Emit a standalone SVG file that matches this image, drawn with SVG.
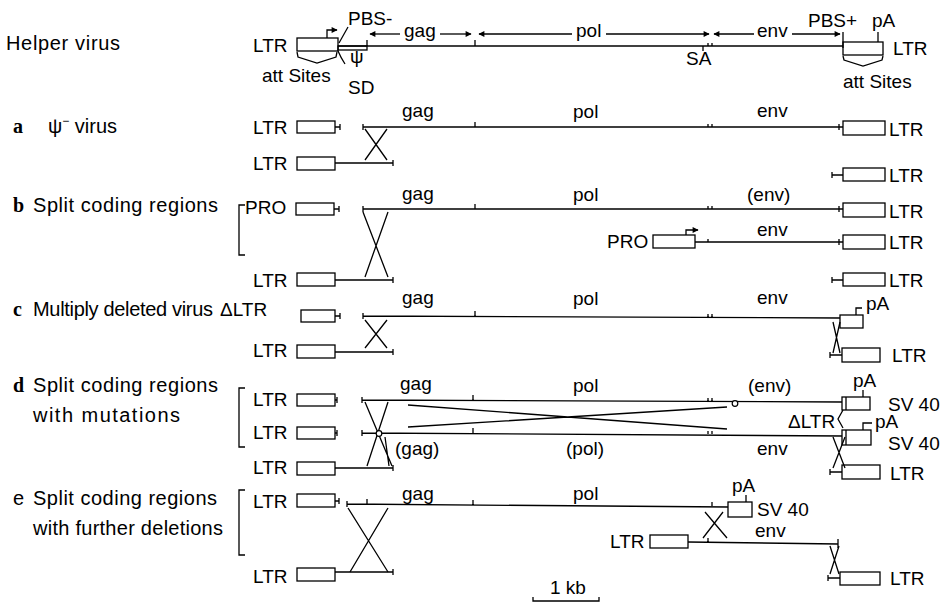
<svg xmlns="http://www.w3.org/2000/svg" width="949" height="604" viewBox="0 0 949 604">
<defs>
<marker id="ah" viewBox="0 0 10 10" refX="9" refY="5" markerWidth="8" markerHeight="6" markerUnits="userSpaceOnUse" orient="auto"><path d="M0,0 L10,5 L0,10 z" fill="#000"/></marker>
<style>
.ln{stroke:#000;stroke-width:1.3;fill:none}
.bx{fill:#fff;stroke:#000;stroke-width:1.3}
.dot{fill:#fff;stroke:#000;stroke-width:1.2}
.t{font-family:"Liberation Sans",Arial,sans-serif;font-size:19px;fill:#000}
.s{font-family:"Liberation Sans",Arial,sans-serif;font-size:20px;fill:#000}
.r{font-family:"Liberation Serif","Times New Roman",serif;font-size:20px;font-weight:bold;fill:#000}
</style>
</defs>
<rect width="949" height="604" fill="#fff"/>

<!-- Row labels -->
<g id="labels">
<text class="s" x="6" y="50" textLength="114" lengthAdjust="spacing">Helper virus</text>
<text class="r" x="13" y="133">a</text>
<text class="s" x="48" y="133">ψ<tspan font-size="12" dy="-8">−</tspan><tspan dy="8"> virus</tspan></text>
<text class="r" x="13" y="212">b</text>
<text class="s" x="33" y="212" textLength="185" lengthAdjust="spacing">Split coding regions</text>
<text class="r" x="13" y="316">c</text>
<text class="s" x="33" y="316" textLength="180" lengthAdjust="spacing">Multiply deleted virus</text>
<text class="r" x="13" y="392">d</text>
<text class="s" x="33" y="392" textLength="185" lengthAdjust="spacing">Split coding regions</text>
<text class="s" x="33" y="422" textLength="147" lengthAdjust="spacing">with mutations</text>
<text class="s" x="13" y="505">e</text>
<text class="s" x="33" y="505" textLength="184" lengthAdjust="spacing">Split coding regions</text>
<text class="s" x="33" y="535" textLength="190" lengthAdjust="spacing">with further deletions</text>
<path class="ln" d="M245,205 H239 V255 H245 M245,388 H239 V447 H245 M245,490 H239 V555 H245"/>
</g>

<!-- Helper virus -->
<g id="helper-ltr-left">
<text class="t" x="253" y="52">LTR</text>
<rect class="bx" x="297" y="38" width="41" height="13"/>
<path class="ln" d="M327,38 V30 H337" marker-end="url(#ah)"/>
<path class="ln" d="M297,52 L298,57 L317,63 L336,57 L337,52"/>
<text class="t" x="262" y="82">att Sites</text>
<text class="t" x="348" y="25">PBS-</text>
<path class="ln" d="M348,27 L339,43"/>
<path class="ln" d="M338,51 Q341,58 345,64"/>
<text class="t" x="348" y="94">SD</text>
<rect class="ln" x="338" y="46" width="29" height="4"/>
<text class="t" x="350" y="63" font-size="17">ψ</text>
</g>
<g id="helper-ltr-right">
<rect class="bx" x="843" y="42" width="40" height="13"/>
<path class="ln" d="M878,32 V42"/>
<text class="t" x="808" y="27">PBS+</text>
<text class="t" x="872" y="27">pA</text>
<text class="t" x="893" y="55">LTR</text>
<path class="ln" d="M843,56 L844,60 L863,66 L882,60 L883,56"/>
<text class="t" x="843" y="88">att Sites</text>
</g>
<g id="helper-genes">
<text class="t" x="404" y="37">gag</text>
<text class="t" x="576" y="37">pol</text>
<text class="t" x="757" y="37">env</text>
<text class="t" x="686" y="65">SA</text>
</g>

<!-- Row a -->
<g id="a-nodes">
<text class="t" x="253" y="134">LTR</text>
<rect class="bx" x="297" y="121" width="38" height="12"/>
<text class="t" x="402" y="117">gag</text>
<text class="t" x="573" y="118">pol</text>
<text class="t" x="757" y="117">env</text>
<rect class="bx" x="843" y="121" width="42" height="14"/>
<text class="t" x="889" y="136">LTR</text>
<text class="t" x="253" y="170">LTR</text>
<rect class="bx" x="297" y="157" width="38" height="13"/>
<rect class="bx" x="843" y="168" width="42" height="13"/>
<text class="t" x="889" y="182">LTR</text>
</g>

<!-- Row b -->
<g id="b-nodes">
<text class="t" x="245" y="214">PRO</text>
<rect class="bx" x="296" y="203" width="38" height="12"/>
<text class="t" x="402" y="200">gag</text>
<text class="t" x="573" y="201">pol</text>
<text class="t" x="747" y="201">(env)</text>
<rect class="bx" x="843" y="203" width="42" height="14"/>
<text class="t" x="889" y="218">LTR</text>
<text class="t" x="607" y="248">PRO</text>
<rect class="bx" x="653" y="235" width="42" height="13"/>
<path class="ln" d="M686,235 V230 H698" marker-end="url(#ah)"/>
<text class="t" x="757" y="236">env</text>
<rect class="bx" x="843" y="235" width="42" height="14"/>
<text class="t" x="889" y="249">LTR</text>
<text class="t" x="253" y="287">LTR</text>
<rect class="bx" x="297" y="273" width="38" height="13"/>
<rect class="bx" x="843" y="273" width="42" height="13"/>
<text class="t" x="889" y="287">LTR</text>
</g>

<!-- Row c -->
<g id="c-nodes">
<text class="t" x="220" y="316">ΔLTR</text>
<rect class="bx" x="301" y="310" width="34" height="12"/>
<text class="t" x="402" y="304">gag</text>
<text class="t" x="573" y="305">pol</text>
<text class="t" x="757" y="304">env</text>
<rect class="bx" x="840" y="315" width="23" height="13"/>
<path class="ln" d="M856,315 V308 H862"/>
<text class="t" x="866" y="310">pA</text>
<text class="t" x="253" y="357">LTR</text>
<rect class="bx" x="297" y="345" width="38" height="13"/>
<rect class="bx" x="842" y="348" width="38" height="14"/>
<text class="t" x="892" y="362">LTR</text>
</g>

<!-- Row d -->
<g id="d-nodes">
<text class="t" x="253" y="406">LTR</text>
<rect class="bx" x="297" y="394" width="38" height="12"/>
<text class="t" x="400" y="390">gag</text>
<text class="t" x="573" y="392">pol</text>
<text class="t" x="748" y="392">(env)</text>
<rect class="bx" x="842" y="397" width="28" height="13"/>
<path class="ln" d="M846,397 V410 M863,397 V390"/>
<text class="t" x="853" y="387">pA</text>
<text class="t" x="888" y="411">SV 40</text>
<text class="t" x="253" y="439">LTR</text>
<rect class="bx" x="297" y="427" width="38" height="12"/>
<rect class="bx" x="842" y="430" width="29" height="15"/>
<path class="ln" d="M846,430 V445 M863,430 V423 H872"/>
<text class="t" x="875" y="428">pA</text>
<text class="t" x="888" y="450">SV 40</text>
<text class="t" x="788" y="428">ΔLTR</text>
<path class="ln" d="M843,410 L838,419 L843,428"/>
<text class="t" x="395" y="455">(gag)</text>
<text class="t" x="566" y="455">(pol)</text>
<text class="t" x="757" y="455">env</text>
<text class="t" x="253" y="474">LTR</text>
<rect class="bx" x="297" y="462" width="38" height="13"/>
<rect class="bx" x="842" y="465" width="38" height="14"/>
<text class="t" x="890" y="480">LTR</text>
</g>

<!-- Row e -->
<g id="e-nodes">
<text class="t" x="253" y="508">LTR</text>
<rect class="bx" x="297" y="494" width="38" height="13"/>
<text class="t" x="402" y="500">gag</text>
<text class="t" x="573" y="500">pol</text>
<rect class="bx" x="728" y="502" width="24" height="15"/>
<path class="ln" d="M746,502 V495"/>
<text class="t" x="732" y="492">pA</text>
<text class="t" x="757" y="516">SV 40</text>
<text class="t" x="755" y="537">env</text>
<text class="t" x="610" y="548">LTR</text>
<rect class="bx" x="650" y="535" width="38" height="13"/>
<text class="t" x="253" y="583">LTR</text>
<rect class="bx" x="297" y="568" width="38" height="13"/>
<rect class="bx" x="840" y="572" width="40" height="13"/>
<text class="t" x="890" y="585">LTR</text>
</g>

<g id="scale">
<text class="t" x="550" y="594">1 kb</text>
<path class="ln" d="M533,597 V601 H599 V597"/>
</g>

<!-- Connectors -->
<g id="connectors" class="ln">
<!-- helper -->
<path d="M338,46 H843"/>
<path d="M367,40 V46 M475,40 V46 M703,46 V51 M708,43 V46 M712,43 V46 M843,32 V48"/>
<path d="M400,34 H370" marker-end="url(#ah)"/>
<path d="M440,34 H471" marker-end="url(#ah)"/>
<path d="M572,34 H479" marker-end="url(#ah)"/>
<path d="M606,34 H709" marker-end="url(#ah)"/>
<path d="M754,34 H714" marker-end="url(#ah)"/>
<path d="M792,34 H840" marker-end="url(#ah)"/>
<!-- a -->
<path d="M335,127 H340 M340,124 V130"/>
<path d="M363,124 V130 M363,127 H843 M839,124 V130 M475,122 V127 M708,124 V127 M712,124 V127"/>
<path d="M365,129 L387,160 M387,129 L365,160"/>
<path d="M335,163 H393 M393,160 V166"/>
<path d="M832,172 V178 M832,175 H843"/>
<!-- b -->
<path d="M334,209 H339 M339,206 V212"/>
<path d="M363,206 V212 M363,209 H843 M839,206 V212 M475,204 V209 M708,206 V209 M712,206 V209"/>
<path d="M363,212 L388,277 M388,212 L365,277"/>
<path d="M335,280 H393 M393,277 V283"/>
<path d="M695,242 H843 M708,239 V242 M839,239 V245"/>
<path d="M832,277 V283 M832,280 H843"/>
<!-- c -->
<path d="M335,316 H340 M340,313 V319"/>
<path d="M363,313 V319 M363,316 L840,318 M475,311 V316 M708,314 V317 M712,314 V317"/>
<path d="M365,320 L387,348 M387,320 L365,348"/>
<path d="M335,352 H393 M393,349 V355"/>
<path d="M833,322 L840,353 M840,322 L833,353"/>
<path d="M830,352 V358 M830,355 H842"/>
<!-- d -->
<path d="M335,400 H337 M337,397 V403"/>
<path d="M362,397 V403 M362,400 L842,402 M473,395 V400 M708,398 V401 M712,398 V401"/>
<path d="M335,433 H337 M337,430 V436"/>
<path d="M362,430 V436 M362,433 L842,436 M473,428 V433 M708,431 V434 M712,431 V434"/>
<path d="M408,405 L727,429 M408,427 L727,407"/>
<path d="M365,402 L392,466 M388,402 L367,466 M385,437 L389,466"/>
<path d="M335,468 H393 M393,465 V471"/>
<path d="M833,437 L845,468 M845,437 L833,468"/>
<path d="M830,469 V475 M830,472 H842"/>
<!-- e -->
<path d="M335,501 H339 M339,498 V504"/>
<path d="M347,501 V507 M347,504 L728,507 M367,499 V504 M473,500 V505 M712,502 V506"/>
<path d="M348,508 L388,572 M388,508 L350,572"/>
<path d="M705,512 L727,538 M723,512 L703,538"/>
<path d="M688,542 L838,544 M708,538 V542 M838,539 V548"/>
<path d="M830,546 L839,574 M839,546 L830,574"/>
<path d="M335,572 H393 M393,569 V575"/>
<path d="M828,575 V581 M828,578 H840"/>
</g>
<g id="mutation-marks">
<circle class="dot" cx="379" cy="433.5" r="2.8"/>
<circle class="dot" cx="735" cy="403.5" r="2.8"/>
</g>
</svg>
